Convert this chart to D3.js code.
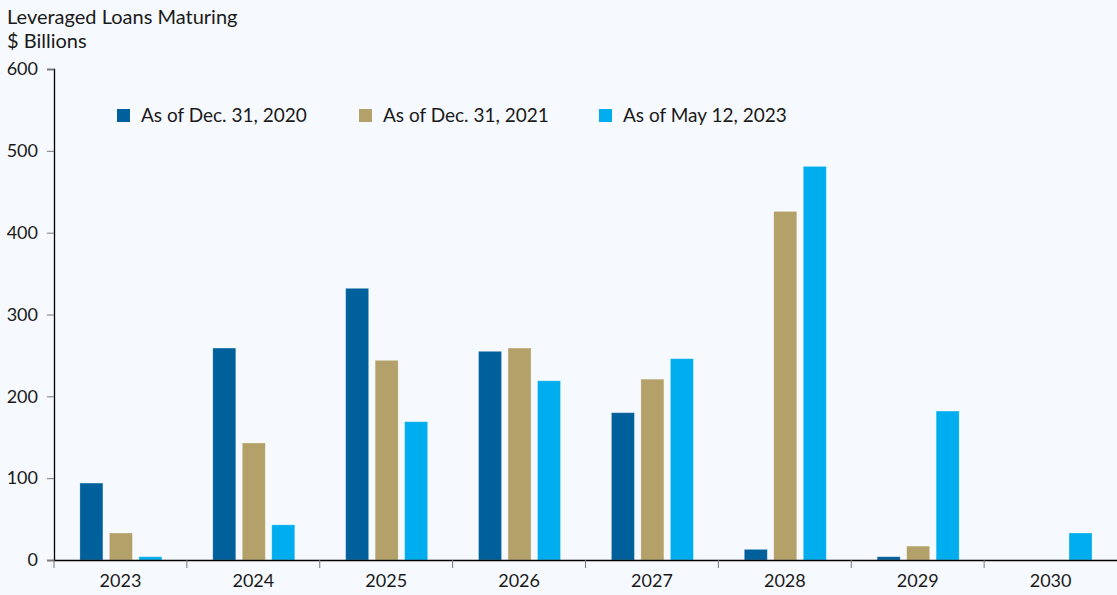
<!DOCTYPE html>
<html>
<head>
<meta charset="utf-8">
<script src="https://cdn.jsdelivr.net/npm/d3@7"></script>
<style>
  html, body { margin: 0; padding: 0; background: #f6f9fd; }
  svg text { font-family: "Source Sans Pro", Lato, "Noto Sans", sans-serif; fill: #1a1a1a; }
</style>
</head>
<body>
<div id="chart"></div>
<script>
// chart data
const years = ["2023", "2024", "2025", "2026", "2027", "2028", "2029", "2030"];
const seriesNames = ["As of Dec. 31, 2020", "As of Dec. 31, 2021", "As of May 12, 2023"];
const asOf2020 = [94, 259, 332, 255, 180, 13, 4, 0];
const asOf2021 = [33, 143, 244, 259, 221, 426, 17, 0];
const asOf2023 = [4, 43, 169, 219, 246, 481, 182, 33];
const yTicks = [0, 100, 200, 300, 400, 500, 600];
const colors = ["#00609c", "#b3a169", "#00aeef"];

const seriesValues = [asOf2020, asOf2021, asOf2023];

const W = 1117, H = 595;
const margin = {top: 69, right: 0, bottom: 35, left: 54};

const svg = d3.select("#chart")
    .append("svg")
    .attr("width", W)
    .attr("height", H);

// scales
const x = d3.scaleBand()
    .domain(years)
    .range([margin.left, W - margin.right])
    .paddingInner(0)
    .paddingOuter(0);

const bw = x.bandwidth();
const xInner = d3.scaleBand()
    .domain(seriesNames)
    .range([bw * 0.195, bw * 0.812])
    .paddingInner(0.22)
    .paddingOuter(0);

const y = d3.scaleLinear()
    .domain([0, 600])
    .range([H - margin.bottom, margin.top]);

// bars
const rows = [];
years.forEach((yr, i) => {
    seriesNames.forEach((s, j) => {
        rows.push({year: yr, series: s, value: seriesValues[j][i], color: colors[j]});
    });
});

svg.append("g")
    .selectAll("rect")
    .data(rows.filter(d => d.value > 0))
    .join("rect")
    .attr("x", d => x(d.year) + xInner(d.series))
    .attr("y", d => y(d.value))
    .attr("width", xInner.bandwidth())
    .attr("height", d => y(0) - y(d.value))
    .attr("fill", d => d.color)
    .attr("stroke", "#ffffff")
    .attr("stroke-opacity", 0.35)
    .attr("stroke-width", 0.8);

// y axis
const yAxis = svg.append("g")
    .attr("transform", `translate(${margin.left}, 0)`)
    .call(d3.axisLeft(y).tickValues(yTicks).tickSize(7).tickPadding(9));
yAxis.select(".domain").attr("stroke", "#000").attr("stroke-width", 1.3);
yAxis.selectAll(".tick line").attr("stroke", "#777");
yAxis.selectAll(".tick text")
    .attr("font-size", "18px")
    .attr("font-family", null);

// x axis
const xAxis = svg.append("g")
    .attr("transform", `translate(0, ${y(0)})`)
    .call(d3.axisBottom(x).tickSize(0).tickPadding(14));
xAxis.select(".domain").attr("stroke", "#000").attr("stroke-width", 1.3);
xAxis.selectAll(".tick text")
    .attr("font-size", "18px")
    .attr("font-family", null);

// category separators
const bounds = years.map(d => x(d));
xAxis.selectAll(".sep")
    .data(bounds)
    .join("line")
    .attr("class", "sep")
    .attr("x1", d => d)
    .attr("x2", d => d)
    .attr("y1", 0)
    .attr("y2", 8)
    .attr("stroke", "#777");

// title
svg.append("text")
    .attr("x", 7)
    .attr("y", 24)
    .attr("font-size", "20px")
    .text("Leveraged Loans Maturing");
svg.append("text")
    .attr("x", 7)
    .attr("y", 48)
    .attr("font-size", "20px")
    .text("$ Billions");

// legend
const legendX = [117, 359, 599];
const legend = svg.append("g")
    .selectAll("g")
    .data(seriesNames)
    .join("g")
    .attr("transform", (d, i) => `translate(${legendX[i]}, 109)`);
legend.append("rect")
    .attr("width", 13)
    .attr("height", 13)
    .attr("fill", (d, i) => colors[i]);
legend.append("text")
    .attr("x", 24)
    .attr("y", 13)
    .attr("font-size", "19px")
    .text(d => d);
</script>
</body>
</html>
